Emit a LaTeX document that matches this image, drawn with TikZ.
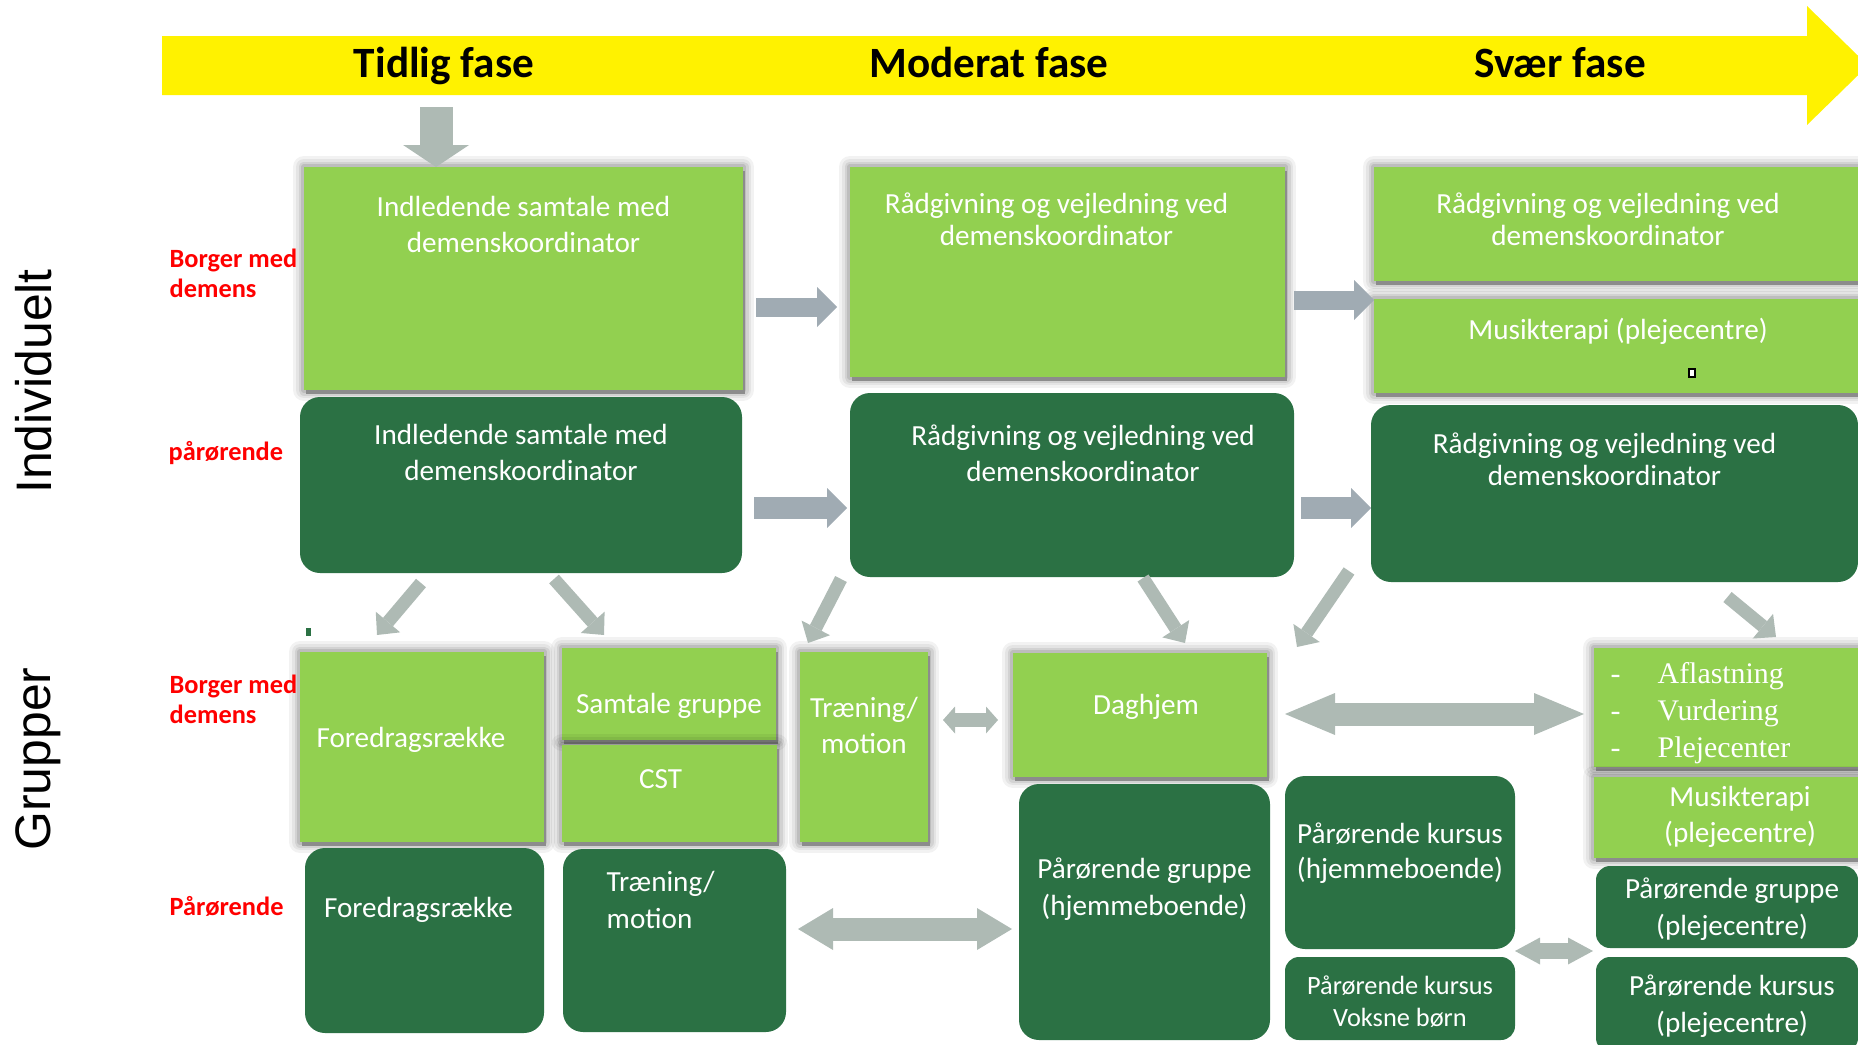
\documentclass[tikz,border=0pt]{standalone}
\usepackage{fontspec}
\setmainfont{Carlito}
\newfontfamily\sidefont{Liberation Sans}
\newfontfamily\listfont{Liberation Serif}
\usetikzlibrary{positioning,shadows,arrows.meta}
\definecolor{lightgreen}{RGB}{146,208,80}
\definecolor{darkgreen}{RGB}{43,113,68}
\definecolor{bluegray}{RGB}{160,171,179}
\definecolor{greengray}{RGB}{174,186,180}
\newcommand\dashitem[1]{\makebox[0.47cm][l]{-}#1}
\tikzset{panel/.style={anchor=north west, inner sep=0pt, outer sep=0pt}}
\tikzset{halo/.style 2 args={preaction={draw=black, line join=round, opacity=#1, line width=#2}}}
\tikzset{light panel/.style={panel, fill=lightgreen, halo={0.05}{0.22cm}, halo={0.06}{0.16cm}, halo={0.08}{0.11cm}, halo={0.1}{0.06cm}, general shadow={fill=black!45, shadow xshift=0.015cm, shadow yshift=-0.035cm}}}
\tikzset{dark panel/.style={panel, fill=darkgreen, rounded corners=0.2cm}}
\tikzset{panel text/.style={text=white, inner sep=0pt, align=center, font=\fontsize{8.3}{10}\selectfont}}
\tikzset{phase title/.style={anchor=base, font=\bfseries\fontsize{12.3}{14}\selectfont}}
\tikzset{side title/.style={rotate=90, inner sep=0pt, font=\sidefont\fontsize{14.2}{16}\selectfont}}
\tikzset{side label/.style={text=red, inner sep=0pt, align=left, font=\bfseries\fontsize{7.5}{8.7}\selectfont}}
\tikzset{down arrow/.style={draw=greengray, line width=0.33cm, -{Triangle[length=0.22cm, width=0.66cm, line width=0pt]}}}
\tikzset{step arrow/.style={draw=bluegray, line width=0.19cm, -{Triangle[length=0.2cm, width=0.4cm, line width=0pt]}}}
\tikzset{link arrow/.style={draw=greengray, line width=0.13cm, -{Triangle[length=0.17cm, width=0.32cm, line width=0pt]}}}
\tikzset{wide arrow/.style={draw=greengray, line width=0.23cm, <->, >={Triangle[length=#1, width=0.42cm, line width=0pt]}}, wide arrow/.default=0.35cm}
\tikzset{small arrow/.style={draw=greengray, line width=0.14cm, <->, >={Triangle[length=#1, width=0.27cm, line width=0pt]}}, small arrow/.default=0.12cm}

\begin{document}
\begin{tikzpicture}
\useasboundingbox (0,0) rectangle (18.58,-10.45);
\clip (0,0) rectangle (18.58,-10.45);
\fill[yellow] (1.62,-0.36) -- (18.07,-0.36) -- (18.07,-0.06) -- (18.68,-0.655) -- (18.07,-1.25) -- (18.07,-0.95) -- (1.62,-0.95) -- cycle;
\node[phase title] (tidlig) at (4.44,-0.77) {Tidlig fase};
\node[phase title] (moderat) at (9.89,-0.77) {Moderat fase};
\node[phase title] (svaer) at (15.60,-0.77) {Svær fase};
\coordinate (start) at (4.36,-1.07);

\node[light panel, minimum width=4.39cm, minimum height=2.23cm, label={[panel text, below=0.29cm, font=\fontsize{8.3}{10.2}\selectfont]north:{Indledende samtale med\\demenskoordinator}}] (a1) at (3.04,-1.67) {};
\node[light panel, minimum width=4.35cm, minimum height=2.10cm, label={[panel text, below=0.25cm, xshift=-0.11cm, font=\fontsize{8.3}{9.1}\selectfont]north:{Rådgivning og vejledning ved\\demenskoordinator}}] (b1) at (8.50,-1.67) {};
\node[light panel, minimum width=4.88cm, minimum height=1.14cm, label={[panel text, below=0.25cm, xshift=-0.10cm, font=\fontsize{8.3}{9.1}\selectfont]north:{Rådgivning og vejledning ved\\demenskoordinator}}] (c1a) at (13.74,-1.67) {};
\node[light panel, minimum width=4.88cm, minimum height=0.94cm, label={[panel text, below=0.18cm]north:{Musikterapi (plejecentre)}}] (c1b) at (13.74,-2.99) {};
\node[draw=black, fill=white, inner sep=0pt, line width=0.3pt, minimum width=0.06cm, minimum height=0.08cm] (mark) at (16.92,-3.73) {};

\node[dark panel, minimum width=4.42cm, minimum height=1.76cm, label={[panel text, below=0.27cm]north:{Indledende samtale med\\demenskoordinator}}] (a2) at (3.00,-3.97) {};
\node[dark panel, minimum width=4.44cm, minimum height=1.84cm, label={[panel text, below=0.31cm, xshift=0.11cm, font=\fontsize{8.3}{10.2}\selectfont]north:{Rådgivning og vejledning ved\\demenskoordinator}}] (b2) at (8.50,-3.93) {};
\node[dark panel, minimum width=4.87cm, minimum height=1.77cm, label={[panel text, below=0.27cm, xshift=-0.10cm, font=\fontsize{8.3}{9.1}\selectfont]north:{Rådgivning og vejledning ved\\demenskoordinator}}] (c2) at (13.71,-4.05) {};

\node[light panel, minimum width=2.44cm, minimum height=1.90cm, label={[panel text, below=0.75cm, xshift=-0.11cm]north:{Foredragsrække}}] (d1) at (3.00,-6.52) {};
\node[fill=darkgreen, inner sep=0pt, minimum width=0.05cm, minimum height=0.08cm] (dot) at (3.08,-6.32) {};
\node[light panel, minimum width=2.14cm, minimum height=0.92cm, label={[panel text, below=0.45cm]north:{Samtale gruppe}}] (e1) at (5.62,-6.48) {};
\node[light panel, minimum width=2.15cm, minimum height=0.97cm, label={[panel text, below=0.24cm, xshift=-0.09cm]north:{CST}}] (e2) at (5.62,-7.45) {};
\node[light panel, minimum width=1.28cm, minimum height=1.90cm, label={[panel text, below=0.45cm]north:{Træning/\\motion}}] (f1) at (8.00,-6.52) {};
\node[light panel, minimum width=2.54cm, minimum height=1.24cm, label={[panel text, below=0.41cm, xshift=0.06cm]north:{Daghjem}}] (g1) at (10.13,-6.53) {};
\node[light panel, minimum width=2.68cm, minimum height=1.19cm, label={[panel text, align=left, anchor=north west, xshift=0.16cm, yshift=-0.14cm, font=\listfont\fontsize{8.5}{10.5}\selectfont]north west:{\dashitem{Aflastning}\\\dashitem{Vurdering}\\\dashitem{Plejecenter}}}] (h1) at (15.94,-6.48) {};
\node[light panel, minimum width=2.68cm, minimum height=0.81cm, label={[panel text, below=0.09cm, xshift=0.12cm]north:{Musikterapi\\(plejecentre)}}] (h2) at (15.94,-7.77) {};

\node[dark panel, minimum width=2.39cm, minimum height=1.85cm, label={[panel text, below=0.49cm, xshift=-0.06cm]north:{Foredragsrække}}] (d2) at (3.05,-8.48) {};
\node[dark panel, minimum width=2.23cm, minimum height=1.83cm, label={[panel text, align=left, anchor=north west, xshift=0.43cm, yshift=-0.22cm, font=\fontsize{8.3}{10.5}\selectfont]north west:{Træning/\\motion}}] (e3) at (5.63,-8.49) {};
\node[dark panel, minimum width=2.51cm, minimum height=2.56cm, label={[panel text, below=0.73cm, font=\fontsize{8.3}{10.5}\selectfont]north:{Pårørende gruppe\\(hjemmeboende)}}] (g2) at (10.19,-7.84) {};
\node[dark panel, minimum width=2.30cm, minimum height=1.73cm, label={[panel text, below=0.46cm]north:{Pårørende kursus\\(hjemmeboende)}}] (i1) at (12.85,-7.76) {};
\node[dark panel, rounded corners=0.14cm, minimum width=2.30cm, minimum height=0.83cm, label={[panel text, below=0.18cm, font=\fontsize{7.5}{9.1}\selectfont]north:{Pårørende kursus\\Voksne børn}}] (i2) at (12.85,-9.57) {};
\node[dark panel, rounded corners=0.14cm, minimum width=2.62cm, minimum height=0.82cm, label={[panel text, below=0.11cm, xshift=0.05cm, font=\fontsize{8.3}{10.5}\selectfont]north:{Pårørende gruppe\\(plejecentre)}}] (h3) at (15.96,-8.66) {};
\node[dark panel, rounded corners=0.14cm, minimum width=2.62cm, minimum height=0.95cm, label={[panel text, below=0.17cm, xshift=0.05cm, font=\fontsize{8.3}{10.5}\selectfont]north:{Pårørende kursus\\(plejecentre)}}] (h4) at (15.96,-9.57) {};

\node[side title] (individuelt) at (0.335,-3.815) {Individuelt};
\node[side title] (grupper) at (0.385,-7.59) {Grupper};
\node[side label, anchor=north west] (borger1) at (1.69,-2.48) {Borger med\\demens};
\node[side label, anchor=base west] (paar1) at (1.68,-4.60) {pårørende};
\node[side label, anchor=north west] (borger2) at (1.69,-6.74) {Borger med\\demens};
\node[side label, anchor=base west] (paar2) at (1.69,-9.15) {Pårørende};

\coordinate (row1a) at (0,-3.07);
\coordinate (row1b) at (0,-3.00);
\coordinate (row2) at (0,-5.08);
\coordinate (row3a) at (0,-7.20);
\coordinate (row3b) at (0,-7.14);
\coordinate (row4a) at (0,-9.29);
\coordinate (row4b) at (0,-9.51);

\draw[down arrow] (start) -- (start |- a1.north);
\draw[step arrow, shorten <=0.13cm, shorten >=0.13cm] (a1.east |- row1a) -- (b1.west |- row1a);
\draw[step arrow, shorten <=0.09cm] (b1.east |- row1b) -- (c1a.west |- row1b);
\draw[step arrow, line width=0.22cm, shorten <=0.12cm, shorten >=0.03cm] (a2.east |- row2) -- (b2.west |- row2);
\draw[step arrow, line width=0.22cm, shorten <=0.07cm] (b2.east |- row2) -- (c2.west |- row2);

\draw[link arrow] ([xshift=-1.00cm,yshift=-0.10cm]a2.south) -- ([xshift=-0.45cm,yshift=0.17cm]d1.north);
\draw[link arrow] ([xshift=0.33cm,yshift=-0.06cm]a2.south) -- ([xshift=-0.65cm,yshift=0.13cm]e1.north);
\draw[link arrow] ([xshift=-2.31cm,yshift=-0.02cm]b2.south) -- ([xshift=-0.56cm,yshift=0.09cm]f1.north);
\draw[link arrow] ([xshift=0.71cm,yshift=-0.01cm]b2.south) -- ([xshift=0.45cm,yshift=0.10cm]g1.north);
\draw[link arrow] ([xshift=-0.22cm,yshift=0.11cm]c2.south west) -- ([xshift=0.12cm,yshift=1.29cm]i1.north west);
\draw[link arrow] ([xshift=1.13cm,yshift=-0.15cm]c2.south) -- ([xshift=0.48cm,yshift=0.11cm]h1.north);

\draw[small arrow, shorten <=0.15cm, shorten >=0.15cm] (f1.east |- row3a) -- (g1.west |- row3a);
\draw[wide arrow=0.5cm, shorten <=0.18cm, shorten >=0.10cm] (g1.east |- row3b) -- (h1.west |- row3b);
\draw[wide arrow, shorten <=0.12cm, shorten >=0.07cm] (e3.east |- row4a) -- (g2.west |- row4a);
\draw[small arrow=0.25cm, line width=0.16cm, shorten >=0.03cm] (i1.east |- row4b) -- (h3.west |- row4b);
\end{tikzpicture}
\end{document}
